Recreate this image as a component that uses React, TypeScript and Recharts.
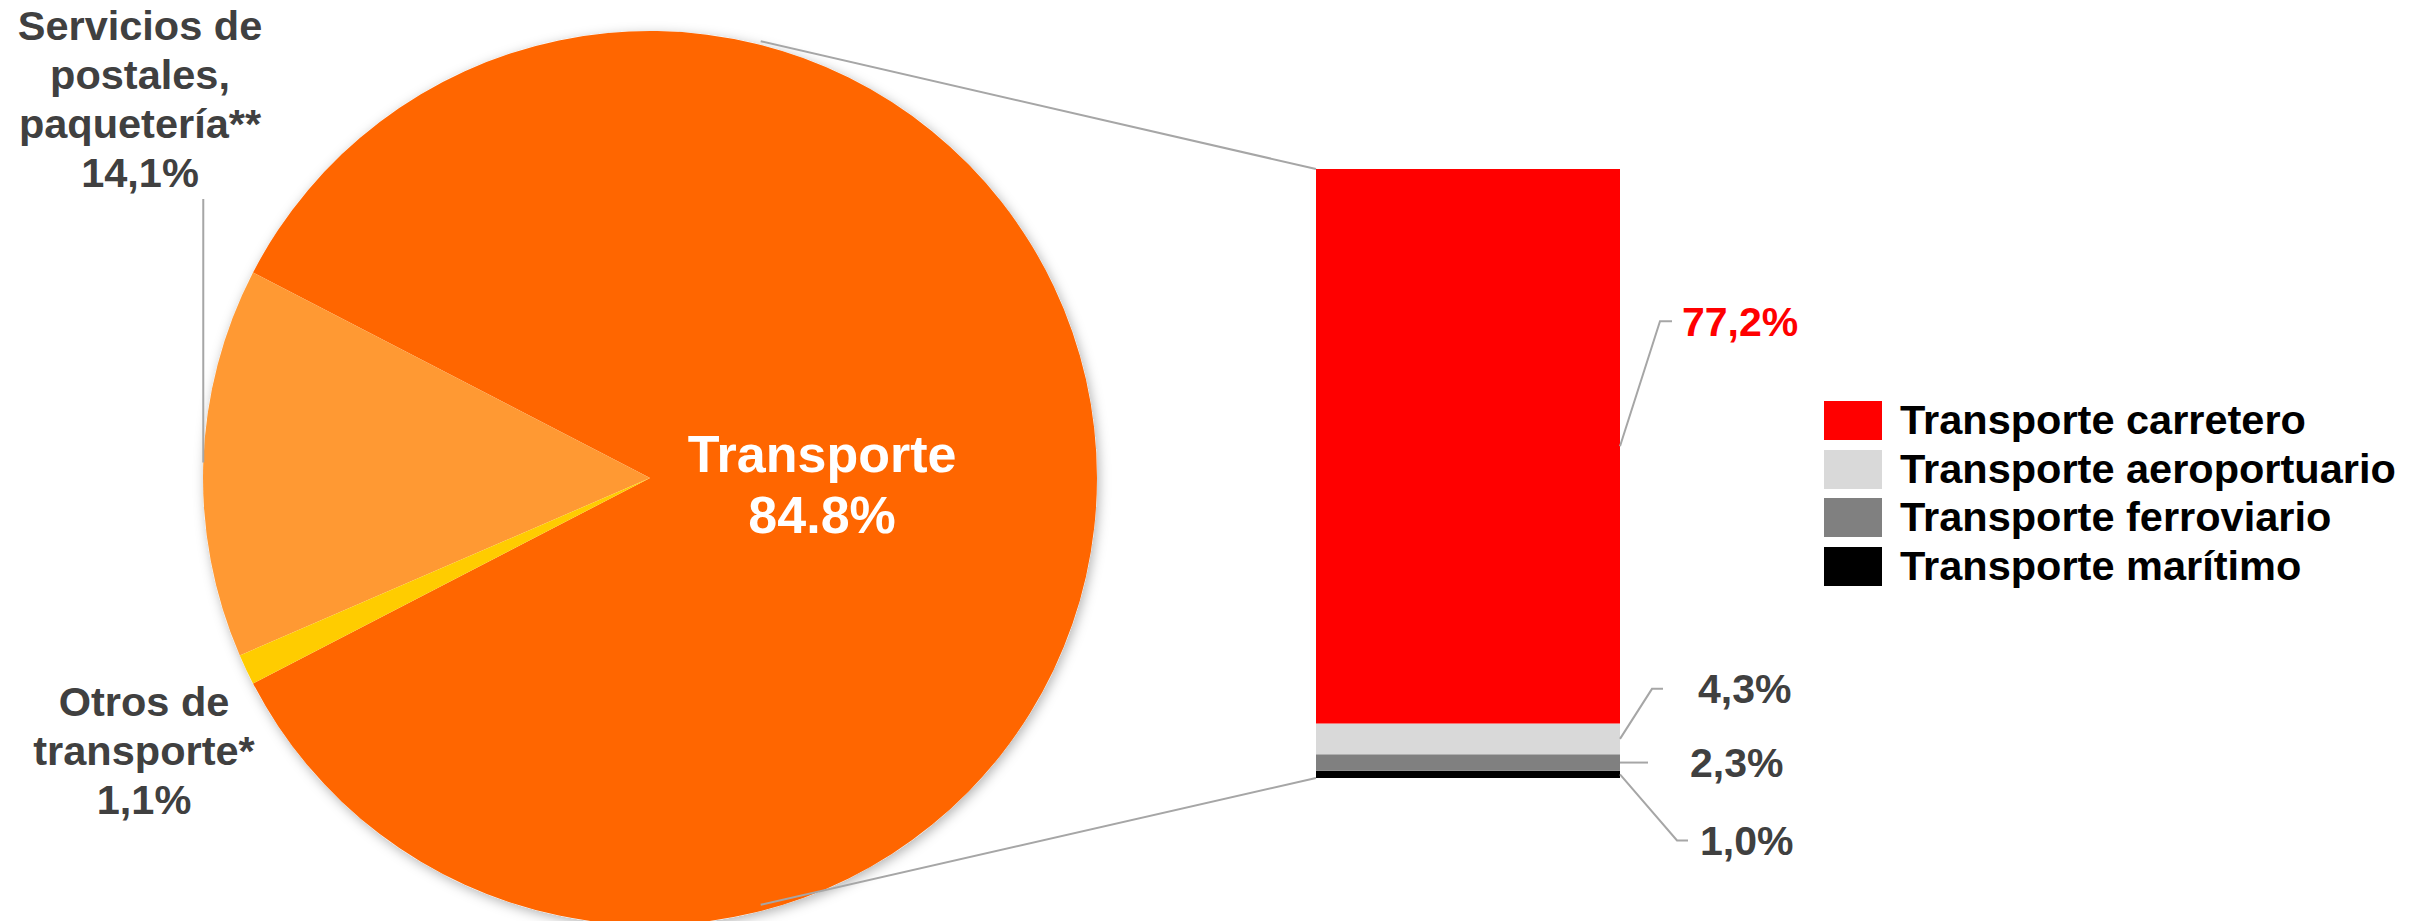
import React from "react"
import { PieChart, Pie, Cell, BarChart, Bar, XAxis, YAxis, Legend, LabelList } from "recharts"

const W = 2425
const H = 921
const FONT = "'Liberation Sans', Arial, sans-serif"

// pie: share of total
const pieNames = ["Transporte", "Servicios de postales, paquetería**", "Otros de transporte*"]
const pieValues = [84.8, 14.1, 1.1]
const pieLabelLines = [
  ["Transporte", "84.8%"],
  ["Servicios de", "postales,", "paquetería**", "14,1%"],
  ["Otros de", "transporte*", "1,1%"],
]
const pieColors = ["#FF6600", "#FF9933", "#FFCC00"]

// bar: breakdown of "Transporte"
const barNames = ["Transporte carretero", "Transporte aeroportuario", "Transporte ferroviario", "Transporte marítimo"]
const barKeys = ["carretero", "aeroportuario", "ferroviario", "maritimo"]
const barValues = [77.2, 4.3, 2.3, 1.0]
const barLabels = ["77,2%", "4,3%", "2,3%", "1,0%"]
const barColors = ["#FF0000", "#D9D9D9", "#808080", "#000000"]

// layout
const PIE = { cx: 645, cy: 473, r: 447 }
const BAR = { left: 1316, right: 1620, top: 169, bottom: 778 }
const pieLabelPos = [null, { x: 140, y: 40, lh: 49 }, { x: 144, y: 716, lh: 49 }]
const barLabelOffsets = [
  { dx: 40, dy: -125, hx: 12, tx: 62 },
  { dx: 32, dy: -50, hx: 11, tx: 78 },
  { dx: 28, dy: 0, hx: 0, tx: 70 },
  { dx: 57, dy: 66, hx: 11, tx: 80 },
]
const LEADER = "#A6A6A6"
const LABEL_GREY = "#404040"

const RAD = Math.PI / 180
const pieTotal = pieValues.reduce((a, b) => a + b, 0)
const pieStart = -(pieValues[0] / pieTotal) * 180
const barTotal = barValues.reduce((a, b) => a + b, 0)

const pieData = pieNames.map((name, i) => ({ name, value: pieValues[i] }))
const barRow: Record<string, any> = { name: "Transporte" }
barKeys.forEach((k, i) => (barRow[k] = barValues[i]))
const barData = [barRow]

function renderPieLabel(props: any) {
  const { cx, cy, midAngle, outerRadius, index } = props
  const lines = pieLabelLines[index]
  if (index === 0) {
    const x = cx + outerRadius * 0.385
    return (
      <text x={x} y={cy - 6} textAnchor="middle" fill="#fff" style={{ fontSize: 52, fontWeight: 700, fontFamily: FONT }}>
        {lines.map((l, i) => (
          <tspan key={i} x={x} dy={i === 0 ? 0 : 61}>{l}</tspan>
        ))}
      </text>
    )
  }
  const pos = pieLabelPos[index]!
  const ox = cx + outerRadius * Math.cos(-midAngle * RAD)
  const oy = cy + outerRadius * Math.sin(-midAngle * RAD)
  return (
    <g>
      {index === 1 && <line x1={ox} y1={oy} x2={ox} y2={199} stroke={LEADER} strokeWidth={2} />}
      <text x={pos.x} y={pos.y} textAnchor="middle" fill={LABEL_GREY} style={{ fontSize: 41.5, fontWeight: 700, fontFamily: FONT }}>
        {lines.map((l, i) => (
          <tspan key={i} x={pos.x} dy={i === 0 ? 0 : pos.lh}>{l}</tspan>
        ))}
      </text>
    </g>
  )
}

const makeBarLabel = (i: number) => (props: any) => {
  const { x, y, width, height } = props
  const o = barLabelOffsets[i]
  const sx = Number(x) + Number(width)
  const sy = Number(y) + Number(height) / 2
  const ex = sx + o.dx
  const ey = sy + o.dy
  return (
    <g>
      <polyline points={`${sx},${sy} ${ex},${ey} ${ex + o.hx},${ey}`} fill="none" stroke={LEADER} strokeWidth={2} />
      <text x={sx + o.tx} y={ey + 14.5} fill={i === 0 ? "#FF0000" : LABEL_GREY} style={{ fontSize: 41, fontWeight: 700, fontFamily: FONT }}>
        {barLabels[i]}
      </text>
    </g>
  )
}

function LegendContent(props: any) {
  const payload: any[] = props.payload ?? []
  // keep the top-to-bottom order of the stack
  const items = barNames.map((name, i) => {
    const hit = payload.find((e) => e.value === name)
    return { name, color: hit?.color ?? barColors[i] }
  })
  return (
    <div style={{ fontFamily: FONT, fontWeight: 700, fontSize: 41.5, color: "#000", whiteSpace: "nowrap" }}>
      {items.map((it) => (
        <div key={it.name} style={{ display: "flex", alignItems: "center", height: 48.7 }}>
          <span style={{ display: "inline-block", width: 58, height: 39, background: it.color, marginRight: 18 }} />
          <span style={{ lineHeight: "48.7px" }}>{it.name}</span>
        </div>
      ))}
    </div>
  )
}

export default function App() {
  const a = 75 * RAD
  const p1 = { x: PIE.cx + PIE.r * Math.cos(a), y: PIE.cy - PIE.r * Math.sin(a) }
  const p2 = { x: PIE.cx + PIE.r * Math.cos(a), y: PIE.cy + PIE.r * Math.sin(a) }
  // bars are stacked bottom-up, so draw the last category first
  const order = barKeys.map((_, i) => i).reverse()

  return (
    <div style={{ position: "relative", width: W, height: H, background: "#fff", overflow: "hidden" }}>
      <style>{`body{margin:0}`}</style>
      <svg width={0} height={0} style={{ position: "absolute" }}>
        <defs>
          <filter id="pieShadow" x="-10%" y="-10%" width="120%" height="120%">
            <feDropShadow dx="2" dy="3" stdDeviation="6" floodColor="#000" floodOpacity="0.3" />
          </filter>
        </defs>
      </svg>

      <div style={{ position: "absolute", left: 0, top: 0 }}>
        <PieChart width={W} height={H}>
          <Pie
            data={[{ value: 1 }]}
            dataKey="value"
            cx={PIE.cx}
            cy={PIE.cy}
            outerRadius={PIE.r}
            stroke="none"
            isAnimationActive={false}
            label={false}
          >
            <Cell fill="#fff" filter="url(#pieShadow)" />
          </Pie>
          <Pie
            data={pieData}
            dataKey="value"
            nameKey="name"
            cx={PIE.cx}
            cy={PIE.cy}
            outerRadius={PIE.r}
            startAngle={pieStart}
            endAngle={pieStart + 360}
            stroke="none"
            isAnimationActive={false}
            label={renderPieLabel}
            labelLine={false}
          >
            {pieData.map((d, i) => (
              <Cell key={d.name} fill={pieColors[i]} />
            ))}
          </Pie>
        </PieChart>
      </div>

      <svg width={W} height={H} style={{ position: "absolute", left: 0, top: 0 }}>
        <line x1={p1.x} y1={p1.y} x2={BAR.left} y2={BAR.top} stroke={LEADER} strokeWidth={2} />
        <line x1={p2.x} y1={p2.y} x2={BAR.left} y2={BAR.bottom} stroke={LEADER} strokeWidth={2} />
      </svg>

      <div style={{ position: "absolute", left: 0, top: 0 }}>
        <BarChart
          width={W}
          height={H}
          data={barData}
          barCategoryGap={0}
          margin={{ top: BAR.top, bottom: H - BAR.bottom, left: BAR.left, right: W - BAR.right }}
        >
          <XAxis dataKey="name" hide />
          <YAxis hide domain={[0, barTotal]} allowDataOverflow />
          <Legend
            content={<LegendContent />}
            layout="horizontal"
            align="center"
            verticalAlign="middle"
            wrapperStyle={{ left: 1824, top: 396, width: 600 }}
          />
          {order.map((i) => (
            <Bar
              key={barKeys[i]}
              dataKey={barKeys[i]}
              name={barNames[i]}
              stackId="t"
              fill={barColors[i]}
              isAnimationActive={false}
            >
              <LabelList dataKey={barKeys[i]} content={makeBarLabel(i)} />
            </Bar>
          ))}
        </BarChart>
      </div>
    </div>
  )
}
